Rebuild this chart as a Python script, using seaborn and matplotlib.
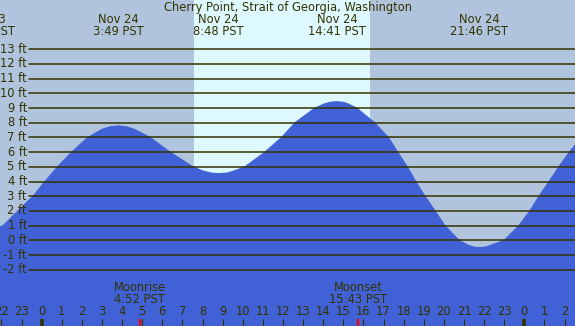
import numpy as np
import pandas as pd
import matplotlib
matplotlib.use("Agg")
import matplotlib.pyplot as plt
import matplotlib.transforms as mtransforms
import seaborn as sns

# hours relative to Nov 24 00:00 PST, heights in ft
tide_hours = [-2.1, -1.92, -1.18, -0.43, 0.16, 0.79, 1.49, 2.30, 3.0, 3.4, 3.82, 4.2, 4.6,
              5.39, 6.38, 7.52, 8.0, 8.4, 8.8, 9.2, 9.5, 10.11, 11.1, 11.93, 12.6, 13.59,
              14.1, 14.4, 14.68, 15.0, 15.2, 15.66, 16.55, 17.24, 17.7, 18.18, 18.6, 19.06,
              19.56, 20.05, 20.75, 21.2, 21.5, 21.77, 22.1, 22.4, 23.0, 23.73, 24.28, 24.73,
              25.23, 25.72, 26.24, 26.6]
tide_feet = [0.9, 1.0, 2.0, 3.0, 4.0, 5.0, 6.0, 7.0, 7.55, 7.72, 7.78, 7.73, 7.55,
             7.0, 6.0, 5.0, 4.72, 4.58, 4.53, 4.57, 4.68, 5.0, 6.0, 7.0, 8.0, 9.0,
             9.3, 9.4, 9.43, 9.39, 9.3, 9.0, 8.0, 7.0, 6.0, 5.0, 4.0, 3.0,
             2.0, 1.0, 0.0, -0.34, -0.46, -0.5, -0.45, -0.31, 0.0, 1.0, 2.0, 3.0,
             4.0, 5.0, 6.0, 6.6]

extreme_hours = [-2.79, 3.82, 8.8, 14.68, 21.77]
extreme_dates = ["Nov 23", "Nov 24", "Nov 24", "Nov 24", "Nov 24"]
extreme_times = ["21:14 PST", "3:49 PST", "8:48 PST", "14:41 PST", "21:46 PST"]

sunrise, sunset = 7.57, 16.32
moon_hours = [4.87, 15.72]
moon_names = ["Moonrise", "Moonset"]
moon_times = ["4:52 PST", "15:43 PST"]

grid_feet = list(range(-2, 14))
hour_ticks = list(range(-2, 27))

ink = "#333300"
night = "#b0c4de"
day = "#ddf8ff"
water = "#4161d6"
fs = 8.3

sns.set_theme(style="white")
plt.rcParams["font.family"] = ["DejaVu Sans"]

df = pd.DataFrame({"hour": tide_hours, "ft": tide_feet})

fig = plt.figure(figsize=(5.75, 3.26), dpi=100, facecolor=night)
ax = fig.add_axes([0, 0, 1, 1])
ax.axvspan(sunrise, sunset, color=day, lw=0, zorder=0)

ax.fill_between(df["hour"], df["ft"], -10, color=water, lw=0, zorder=1)
sns.lineplot(data=df, x="hour", y="ft", ax=ax, color=water, lw=0.8, zorder=1)

ax.set_xlim(-2.074, 26.52)
ax.set_ylim(-5.83, 16.35)
ax.axis("off")

# horizontal ft lines + labels
ylab = mtransforms.blended_transform_factory(ax.transAxes, ax.transData)
for f in grid_feet:
    ax.axhline(f, xmin=29 / 575, xmax=1, color=ink, lw=1.1, zorder=3)
    ax.text(27 / 575, f, f"{f} ft", transform=ylab, ha="right", va="center",
            fontsize=fs, color=ink, zorder=4)

xlab = mtransforms.blended_transform_factory(ax.transData, ax.transAxes)

# title and high/low labels
ax.text(0.5, 0.978, "Cherry Point, Strait of Georgia, Washington", transform=ax.transAxes,
        ha="center", va="center", fontsize=fs, color=ink, zorder=5)
for h, d, t in zip(extreme_hours, extreme_dates, extreme_times):
    ax.text(h, 0.941, d, transform=xlab, ha="center", va="center", fontsize=fs, color=ink, zorder=5)
    ax.text(h, 0.902, t, transform=xlab, ha="center", va="center", fontsize=fs, color=ink, zorder=5)

# hour ticks along the bottom
for h in hour_ticks:
    lab = h % 24
    ax.text(h, 0.044, str(lab), transform=xlab, ha="center", va="center",
            fontsize=fs, color=ink, zorder=5)
    if lab == 0:
        ax.vlines(h, 0, 0.0206, transform=xlab, color=ink, lw=2.6, zorder=5)
    else:
        ax.vlines(h, 0, 0.0206, transform=xlab, color=ink, lw=0.8, zorder=5)

# moonrise / moonset
for h, n, t in zip(moon_hours, moon_names, moon_times):
    ax.vlines(h, 0, 0.0206, transform=xlab, color="red", lw=1.6, zorder=6)
    ax.text(h, 0.1187, n, transform=xlab, ha="center", va="center", fontsize=fs, color=ink, zorder=5)
    ax.text(h, 0.0819, t, transform=xlab, ha="center", va="center", fontsize=fs, color=ink, zorder=5)

fig.savefig("out.png", dpi=100, facecolor=night)
